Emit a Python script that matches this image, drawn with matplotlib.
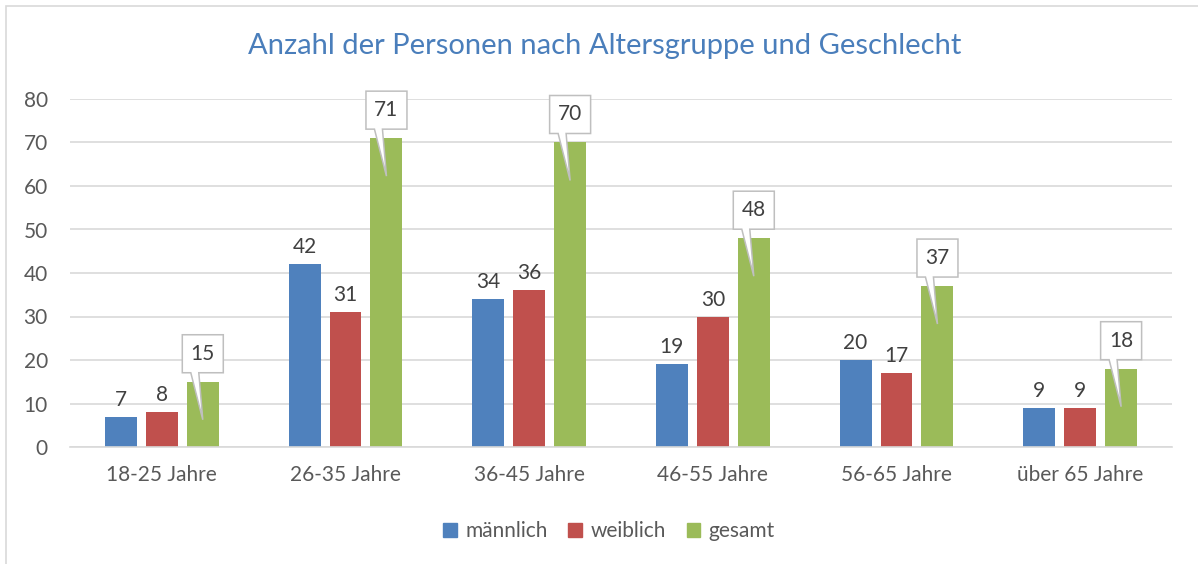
import matplotlib
matplotlib.use("Agg")
import matplotlib.pyplot as plt
import matplotlib.patches as mpatches
import matplotlib.transforms as mtransforms
from matplotlib.path import Path
import numpy as np

categories = ["18-25 Jahre", "26-35 Jahre", "36-45 Jahre", "46-55 Jahre", "56-65 Jahre", "über 65 Jahre"]
maennlich = [7, 42, 34, 19, 20, 9]
weiblich = [8, 31, 36, 30, 17, 9]
gesamt = [15, 71, 70, 48, 37, 18]
series_names = ["männlich", "weiblich", "gesamt"]
colors = ["#4f81bd", "#c0504d", "#9bbb59"]
title = "Anzahl der Personen nach Altersgruppe und Geschlecht"

plt.rcParams['font.family'] = ['Lato', 'DejaVu Sans']
W, H = 1198, 564
fig = plt.figure(figsize=(W / 100, H / 100), dpi=100)
ax = fig.add_axes([70 / W, 117 / H, 1102 / W, 348 / H])

text_col = "#595959"
fs = 15
x = np.arange(len(categories))
bw = 0.174
step = 0.223
offsets = [-step, 0, step]
all_series = [maennlich, weiblich, gesamt]
for i, (vals, c, name) in enumerate(zip(all_series, colors, series_names)):
    ax.bar(x + offsets[i], vals, width=bw, color=c, label=name, zorder=2)

ax.set_xlim(-0.5, len(categories) - 0.5)
ax.set_ylim(0, 80)
ax.set_yticks(range(0, 81, 10))
ax.set_xticks(x)
ax.set_xticklabels(categories)
ax.grid(axis='y', color="#d9d9d9", linewidth=1.2, zorder=0)
for s in ["top", "right", "left"]:
    ax.spines[s].set_visible(False)
ax.spines["bottom"].set_color("#d9d9d9")
ax.spines["bottom"].set_linewidth(1.2)
ax.tick_params(axis='both', length=0, labelsize=fs, labelcolor=text_col)
ax.tick_params(axis='y', pad=16)
ax.tick_params(axis='x', pad=13)

# data labels for male / female
for i in range(2):
    for xi, v in zip(x + offsets[i], all_series[i]):
        ax.annotate(str(v), xy=(xi, v), xytext=(0, 7 * 0.72), textcoords='offset points',
                    ha='center', va='bottom', fontsize=fs, color="#404040")

# callouts for total
verts_px = [(-20.5, 9), (-12, 9), (0, -38), (-4, 9), (20.5, 9), (20.5, 47), (-20.5, 47), (-20.5, 9)]
codes = [Path.MOVETO] + [Path.LINETO] * 6 + [Path.CLOSEPOLY]
for xi, v in zip(x + offsets[2], gesamt):
    tr = mtransforms.Affine2D() + mtransforms.ScaledTranslation(xi, v, ax.transData)
    patch = mpatches.PathPatch(Path(verts_px, codes), facecolor="white", edgecolor="#bfbfbf",
                               linewidth=1.1, transform=tr, clip_on=False, zorder=4)
    ax.add_artist(patch)
    ax.annotate(str(v), xy=(xi, v), xytext=(0, 28 * 0.72), textcoords='offset points',
                ha='center', va='center', fontsize=fs, color="#404040", zorder=5)

fig.text(605 / W, 1 - 46 / H, title, ha='center', va='center', fontsize=21, color="#4a7ebb")

handles = [mpatches.Patch(color=c, label=n) for c, n in zip(colors, series_names)]
fig.legend(handles=handles, loc='center', bbox_to_anchor=(609 / W, 1 - 531 / H), ncol=3,
           frameon=False, fontsize=15, handlelength=0.65, handleheight=0.65, handletextpad=0.4,
           columnspacing=1.0, labelcolor=text_col)

# outer border
fig.add_artist(mpatches.Rectangle((6 / W, -0.1), 1.2, 1 - 6 / H + 0.1, transform=fig.transFigure,
                                  fill=False, edgecolor="#d9d9d9", linewidth=1.2))

fig.savefig("out.png", dpi=100)
